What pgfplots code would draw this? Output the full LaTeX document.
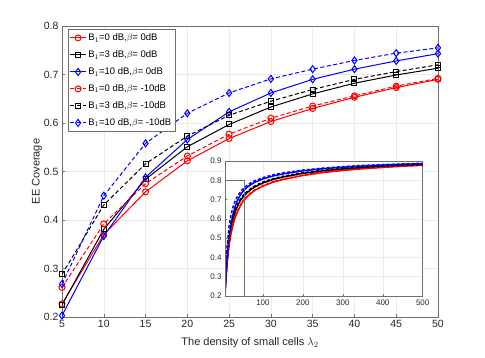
\documentclass[border=0pt]{standalone}
\usepackage{pgfplots}
\usepackage{pgfplotstable}
\pgfplotsset{compat=1.18}
\usepackage{fontspec}
\setmainfont{Liberation Sans}
\pgfplotstableread{
x r0 k0 b0 r1 k1 b1
5 0.227 0.225 0.203 0.261 0.288 0.268
10 0.370 0.381 0.367 0.392 0.431 0.450
15 0.458 0.484 0.488 0.475 0.516 0.558
20 0.522 0.551 0.566 0.532 0.573 0.620
25 0.568 0.597 0.623 0.577 0.616 0.662
30 0.603 0.633 0.662 0.610 0.645 0.691
35 0.630 0.660 0.690 0.635 0.669 0.711
40 0.653 0.682 0.711 0.656 0.690 0.729
45 0.673 0.699 0.728 0.676 0.706 0.744
50 0.690 0.713 0.743 0.692 0.720 0.755
}\maindata
\pgfplotstableread{
x r0 k0 b0 r1 k1 b1
5 0.227 0.225 0.203 0.261 0.288 0.268
10 0.370 0.381 0.367 0.392 0.431 0.450
15 0.458 0.484 0.488 0.475 0.516 0.558
20 0.522 0.551 0.566 0.532 0.573 0.620
25 0.568 0.597 0.623 0.577 0.616 0.662
30 0.603 0.633 0.662 0.610 0.645 0.691
35 0.630 0.660 0.690 0.635 0.669 0.711
40 0.653 0.682 0.711 0.656 0.690 0.729
45 0.673 0.699 0.728 0.676 0.706 0.744
50 0.690 0.713 0.743 0.692 0.720 0.755
60 0.714 0.735 0.763 0.716 0.741 0.773
70 0.733 0.752 0.778 0.735 0.758 0.787
80 0.748 0.766 0.790 0.750 0.771 0.798
100 0.770 0.786 0.807 0.772 0.791 0.814
125 0.790 0.804 0.822 0.792 0.808 0.828
150 0.804 0.817 0.833 0.806 0.821 0.838
200 0.825 0.836 0.849 0.827 0.839 0.853
250 0.840 0.849 0.860 0.842 0.852 0.863
300 0.851 0.859 0.868 0.853 0.861 0.871
350 0.860 0.866 0.874 0.861 0.868 0.877
400 0.867 0.872 0.879 0.868 0.874 0.881
450 0.873 0.877 0.883 0.874 0.879 0.885
500 0.878 0.881 0.886 0.879 0.882 0.888
}\insetdata
\definecolor{gridc}{RGB}{235,235,235}
\definecolor{axc}{RGB}{110,110,110}
\begin{document}
\begin{tikzpicture}
\useasboundingbox (0pt,0pt) rectangle (485pt,357pt);
\begin{axis}[
  at={(62pt,40pt)}, anchor=south west,
  scale only axis, width=376pt, height=291pt,
  xmin=5, xmax=50, ymin=0.2, ymax=0.8,
  xtick={5,10,...,50}, ytick={0.2,0.3,...,0.8},
  yticklabel style={/pgf/number format/.cd,fixed,precision=1,fixed zerofill},
  grid=major, major grid style={gridc, line width=0.5pt},
  axis line style={axc, line width=0.5pt},
  tick style={axc, line width=0.5pt},
  tick align=inside, major tick length=3pt,
  xtick pos=bottom, ytick pos=left,
  tick label style={font=\fontsize{10.5}{12}\selectfont, text=black!85},
  /pgf/number format/assume math mode=true,
  xlabel={The density of small cells $\lambda_2$},
  ylabel={EE Coverage},
  label style={font=\fontsize{11}{13}\selectfont, text=black!85},
  xlabel style={at={(axis description cs:0.5,-0.0893)}, anchor=center},
  ylabel style={at={(axis description cs:-0.0665,0.5)}, anchor=center, rotate=0},
  legend style={at={(0.015,0.988)}, anchor=north west, draw=axc, line width=0.5pt,
    font=\fontsize{9.5}{11}\selectfont, row sep=4.6pt, inner sep=2pt, fill=white},
  legend cell align=left,
  legend image code/.code={%
    \draw[mark repeat=2,mark phase=2] plot coordinates {(0cm,0cm) (0.27cm,0cm) (0.54cm,0cm)};},
  every axis plot/.append style={line width=1pt},
]
\addplot[red, mark=o, mark size=3pt, mark options={solid}] table[x=x,y=r0]{\maindata};
\addlegendentry{B$_1$=0 dB,$\beta$= 0dB}
\addplot[black, mark=square, mark size=2.5pt, mark options={solid}] table[x=x,y=k0]{\maindata};
\addlegendentry{B$_1$=3 dB,$\beta$= 0dB}
\addplot[blue, mark=diamond, mark size=3.5pt, mark options={solid}] table[x=x,y=b0]{\maindata};
\addlegendentry{B$_1$=10 dB,$\beta$= 0dB}
\addplot[red, dashed, dash pattern=on 4pt off 2.5pt, mark=o, mark size=3pt, mark options={solid}] table[x=x,y=r1]{\maindata};
\addlegendentry{B$_1$=0 dB,$\beta$= -10dB}
\addplot[black, dashed, dash pattern=on 4pt off 2.5pt, mark=square, mark size=2.5pt, mark options={solid}] table[x=x,y=k1]{\maindata};
\addlegendentry{B$_1$=3 dB,$\beta$= -10dB}
\addplot[blue, dashed, dash pattern=on 4pt off 2.5pt, mark=diamond, mark size=3.5pt, mark options={solid}] table[x=x,y=b1]{\maindata};
\addlegendentry{B$_1$=10 dB,$\beta$= -10dB}
\end{axis}
\begin{axis}[
  at={(225pt,61pt)}, anchor=south west,
  scale only axis, width=197.7pt, height=135pt,
  xmin=5, xmax=500, ymin=0.2, ymax=0.9,
  xtick={100,200,...,500}, ytick={0.2,0.3,...,0.9},
  yticklabel style={/pgf/number format/.cd,fixed,precision=1,fixed zerofill},
  grid=major, major grid style={gridc, line width=0.5pt},
  axis line style={axc, line width=0.5pt},
  tick style={axc, line width=0.5pt},
  tick align=inside, major tick length=2pt,
  xtick pos=bottom, ytick pos=left,
  tick label style={font=\fontsize{8}{9}\selectfont, text=black!85},
  /pgf/number format/assume math mode=true,
  axis background/.style={fill=white},
  every axis plot/.append style={line width=1.5pt, no marks},
]
\addplot[red] table[x=x,y=r0]{\insetdata};
\addplot[black] table[x=x,y=k0]{\insetdata};
\addplot[blue] table[x=x,y=b0]{\insetdata};
\addplot[red, dash pattern=on 3pt off 2pt] table[x=x,y=r1]{\insetdata};
\addplot[black, dash pattern=on 3pt off 2pt] table[x=x,y=k1]{\insetdata};
\addplot[blue, dash pattern=on 3pt off 2pt] table[x=x,y=b1]{\insetdata};
\addplot[axc, line width=0.6pt] coordinates {(5,0.2) (5,0.8) (53,0.8) (53,0.2) (5,0.2)};
\end{axis}
\end{tikzpicture}
\end{document}
